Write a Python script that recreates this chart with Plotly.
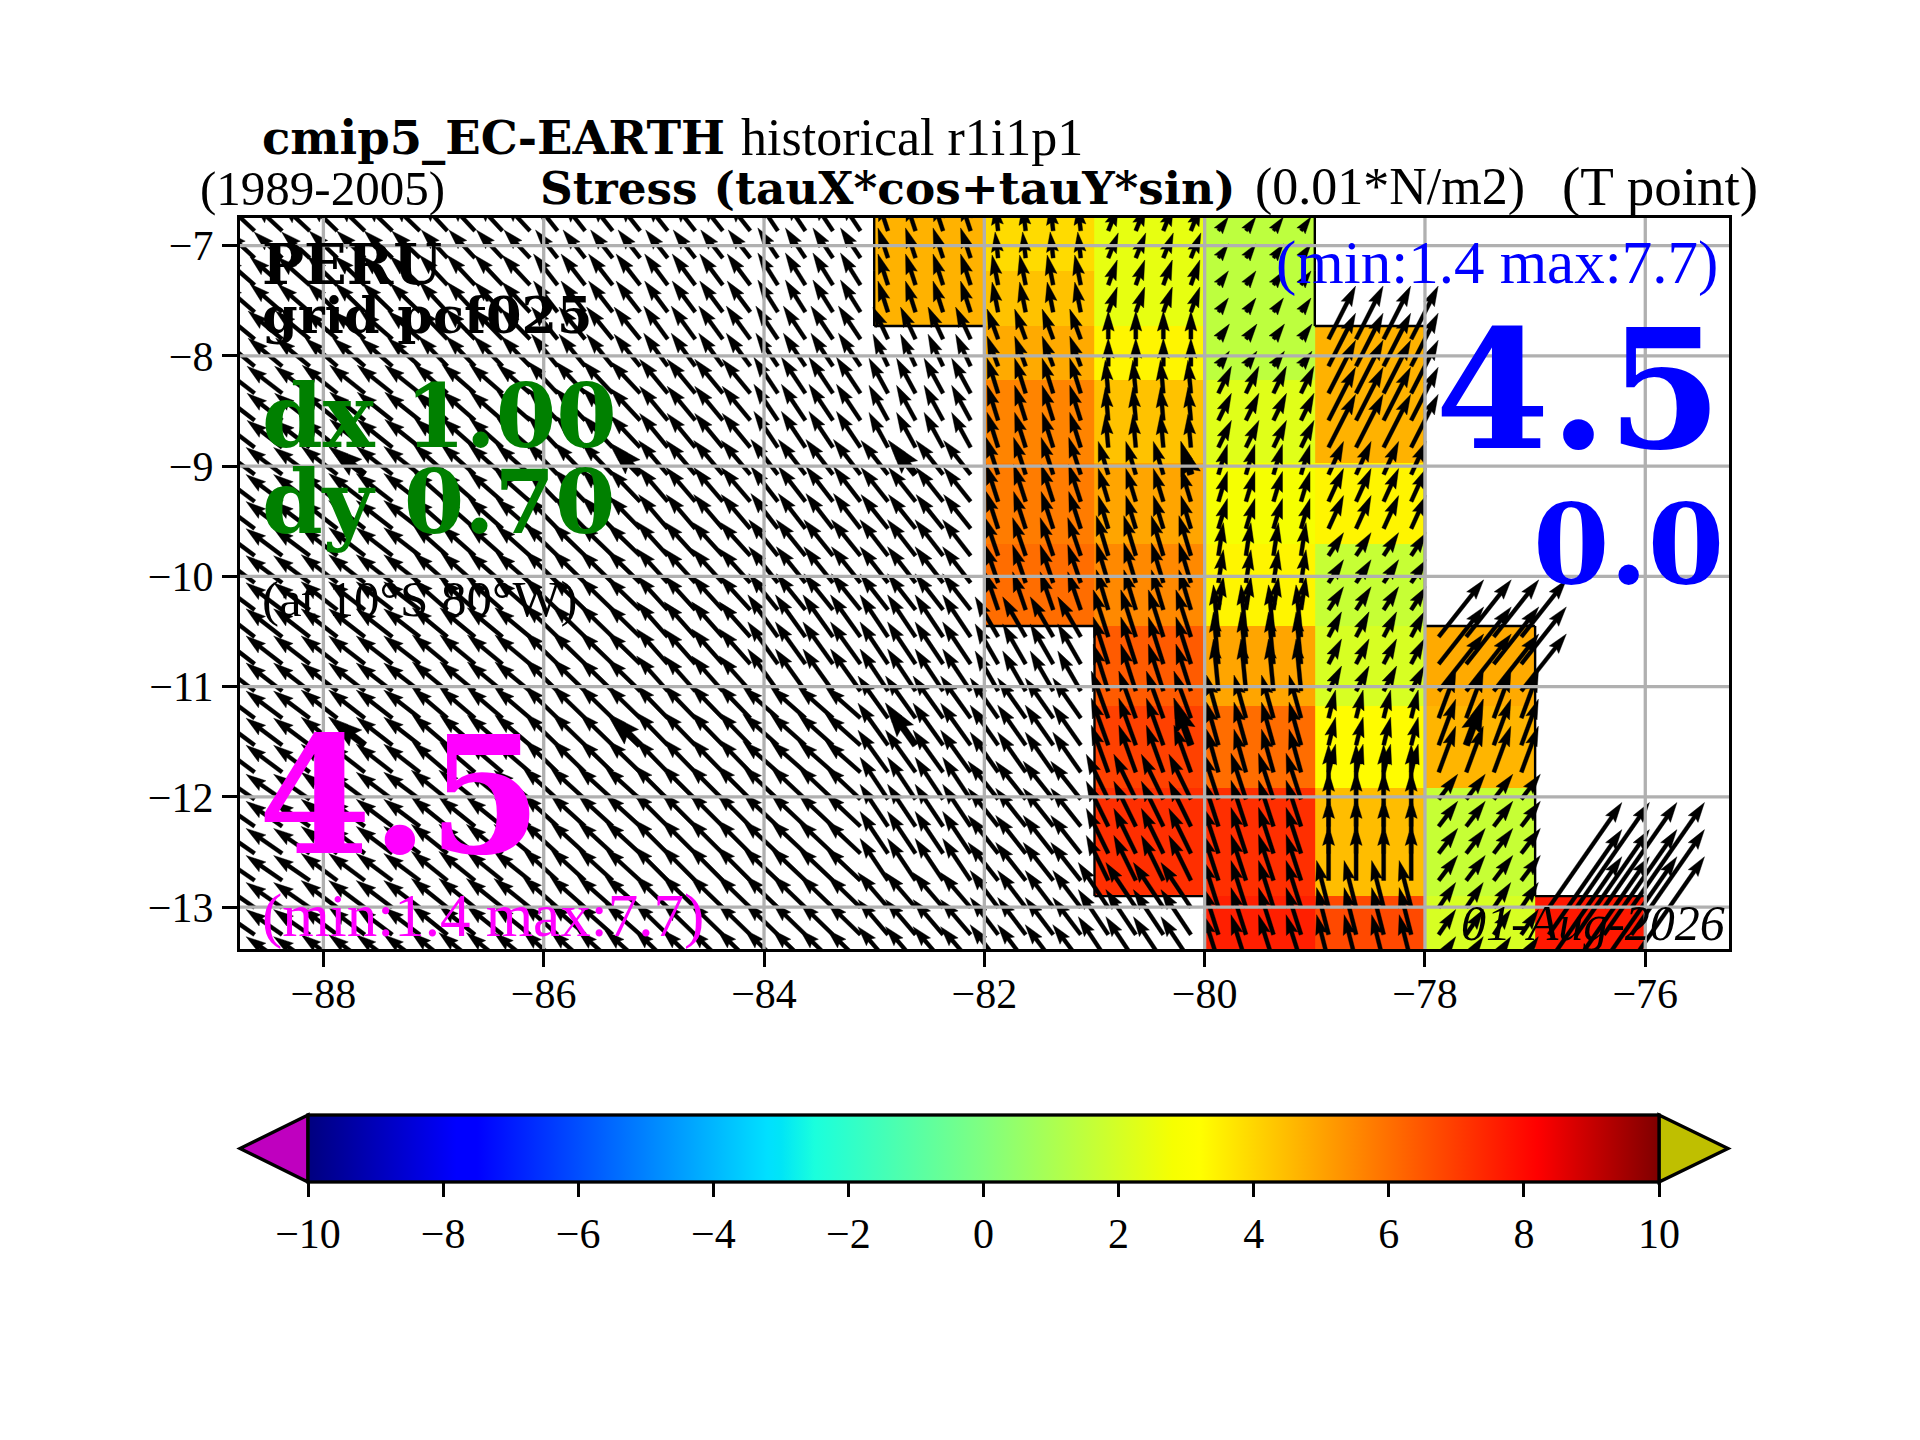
import math
import plotly.graph_objects as go

W, H = 1920, 1440
PAGE_MARGIN = 8  # browser body margin around the plot div

# stress magnitude per 1 degree cell (0.01*N/m2), north to south, None = masked
LON_EDGES = [-83, -82, -81, -80, -79, -78, -77, -76]
LAT_EDGES = [-6.75, -7.23, -7.73, -8.22, -8.97, -9.71, -10.45, -11.18, -11.92, -12.9, -13.4]
STRESS = [
    [4.7, 3.9, 2.44, 1.45, None, None, None],
    [4.7, 4.38, 2.44, 1.45, None, None, None],
    [None, 4.85, 3.4, 1.45, 4.7, None, None],
    [None, 5.6, 4.38, 2.27, 4.7, None, None],
    [None, 5.76, 4.96, 2.82, 3.4, None, None],
    [None, 6.04, 5.5, 3.4, 1.65, None, None],
    [None, None, 6.4, 4.96, 2.06, 4.85, None],
    [None, None, 6.9, 6.04, 3.26, 4.64, None],
    [None, None, 7.25, 7.25, 4.48, 1.65, None],
    [None, None, None, 7.56, 6.74, 2.06, 7.7],
]

# wind stress vectors per 1 degree cell, same rows as STRESS, columns from -89 to -77
VEC_LON_EDGES = [-89, -88, -87, -86, -85, -84, -83, -82, -81, -80, -79, -78, -77, -76]
TAU_U = [
    [-28, -28, -26, -22, -22, -20, -10, -3, 10, 10, None, None, None],
    [-32, -30, -28, -24, -23, -20, -10, -6, 9, 10, None, None, None],
    [-34, -32, -29, -26, -24, -22, -15, -11, 0, 11, 27, None, None],
    [-35, -35, -33, -30, -28, -24, -19, -11, -3, 13, 27, None, None],
    [-36, -36, -34, -31, -29, -27, -27, -12, -10, 9, 15, None, None],
    [-36, -36, -34, -33, -31, -29, -28, -13, -12, 5, 15, None, None],
    [-36, -36, -35, -33, -31, -30, -28, -23, -15, -5, 13, 45, None],
    [-36, -36, -35, -33, -32, -35, -30, -28, -17, -12, 7, 17, None],
    [-36, -36, -36, -35, -34, -35, -28, -30, -22, -15, 0, 19, None],
    [-36, -36, -36, -35, -33, -33, -30, -28, -30, -15, -12, 17, 73],
]
TAU_V = [
    [26, 27, 28, 28, 28, 30, 30, 26, 25, 14, None, None, None],
    [28, 29, 30, 31, 31, 32, 31, 30, 25, 14, None, None, None],
    [28, 28, 30, 32, 33, 33, 32, 30, 28, 15, 53, None, None],
    [27, 28, 29, 32, 34, 36, 35, 35, 33, 27, 53, None, None],
    [27, 28, 30, 32, 34, 35, 34, 37, 33, 30, 33, None, None],
    [27, 28, 30, 32, 34, 36, 36, 38, 40, 33, 23, None, None],
    [28, 28, 29, 32, 35, 42, 42, 40, 47, 52, 25, 57, None],
    [27, 28, 30, 32, 33, 31, 42, 40, 47, 43, 28, 46, None],
    [25, 27, 29, 32, 34, 33, 42, 38, 45, 46, 55, 25, None],
    [25, 27, 29, 31, 32, 32, 35, 37, 45, 47, 47, 25, 105],
]
# arrow tails sit on the model grid
TAIL_LON = [-88.875 + 0.25 * k for k in range(52)]
TAIL_LAT = [-13.495 + 0.2455 * k for k in range(29)]
# the few thick arrows
BIG_LON = [-87.625, -85.125, -82.625, -80.125, -87.625, -85.125, -82.625, -80.125, -77.625]
BIG_LAT = [TAIL_LAT[18]] * 4 + [TAIL_LAT[8]] * 5

XTICKS = [-88, -86, -84, -82, -80, -78, -76]
YTICKS = [-13, -12, -11, -10, -9, -8, -7]
CBAR_TICKS = [-10, -8, -6, -4, -2, 0, 2, 4, 6, 8, 10]

# axes box in pixels
AX_L, AX_R, AX_T, AX_B = 240, 1729, 218, 949
X_RANGE = [-88.757, -75.24]
Y_RANGE = [-13.38, -6.75]
PX_X = (AX_R - AX_L) / (X_RANGE[1] - X_RANGE[0])
PX_Y = (AX_B - AX_T) / (Y_RANGE[1] - Y_RANGE[0])

JET = [
    [0.0, "#00007f"], [0.11, "#0000ff"], [0.125, "#0000ff"], [0.34, "#00e0ff"], [0.35, "#00e5f7"],
    [0.375, "#1affdd"], [0.5, "#80ff80"], [0.64, "#f6ff01"], [0.66, "#ffff00"], [0.89, "#ff1300"],
    [0.91, "#ff0000"], [1.0, "#7f0000"],
]

SERIF = "Liberation Serif"
BOLD = "DejaVu Serif"


def px(x):
    return (x - PAGE_MARGIN) / W


def py(y):
    return 1 - (y - PAGE_MARGIN) / H


def arrow_poly(lon, lat, u, v, w):
    # same shape as a matplotlib quiver arrow, sizes in pixels
    length = math.hypot(u, v)
    hl, hal, hw = 5 * w, 4.5 * w, 1.5 * w
    k = min(1.0, length / hl)
    w2, hl, hal, hw = w / 2 * k, hl * k, hal * k, hw * k
    pts = [(0, w2), (length - hal, w2), (length - hl, hw), (length, 0),
           (length - hl, -hw), (length - hal, -w2), (0, -w2), (0, w2)]
    cs, sn = u / length, v / length
    xs, ys = [], []
    for a, b in pts:
        xs.append(lon + (a * cs - b * sn) / PX_X)
        ys.append(lat + (a * sn + b * cs) / PX_Y)
    return xs + [None], ys + [None]


def find_cell(value, edges):
    for n in range(len(edges) - 1):
        if min(edges[n], edges[n + 1]) <= value < max(edges[n], edges[n + 1]):
            return n
    return None


def lookup(lon, lat):
    # tails south of the last row still belong to it
    r = find_cell(max(lat, LAT_EDGES[-1]), LAT_EDGES)
    c = find_cell(lon, VEC_LON_EDGES)
    if r is None or c is None:
        return None, None
    return TAU_U[r][c], TAU_V[r][c]


fig = go.Figure()

# colored cells
fig.add_trace(go.Heatmap(
    x=LON_EDGES, y=LAT_EDGES[::-1], z=STRESS[::-1],
    zmin=-10, zmax=10, colorscale=JET, hoverinfo="skip",
    colorbar=dict(
        orientation="h", x=px((308 + 1659) / 2), xanchor="center", y=py(1115), yanchor="top",
        len=1351, lenmode="pixels", thickness=67, thicknessmode="pixels", xpad=0, ypad=0,
        outlinecolor="black", outlinewidth=3.3,
        tickmode="array", tickvals=CBAR_TICKS, ticks="outside", ticklen=14, tickwidth=3.3, tickcolor="black",
        tickfont=dict(family=SERIF, size=42, color="black"),
    ),
))

# black line between masked and unmasked cells
edge_x, edge_y = [], []
nr, nc = len(STRESS), len(STRESS[0])
for r in range(nr):
    for c in range(nc):
        here = STRESS[r][c] is not None
        if c + 1 < nc and here != (STRESS[r][c + 1] is not None):
            edge_x += [LON_EDGES[c + 1], LON_EDGES[c + 1], None]
            edge_y += [LAT_EDGES[r], LAT_EDGES[r + 1], None]
        if c == 0 and here:
            edge_x += [LON_EDGES[0], LON_EDGES[0], None]
            edge_y += [LAT_EDGES[r], LAT_EDGES[r + 1], None]
        if r + 1 < nr and here != (STRESS[r + 1][c] is not None):
            edge_x += [LON_EDGES[c], LON_EDGES[c + 1], None]
            edge_y += [LAT_EDGES[r + 1], LAT_EDGES[r + 1], None]
fig.add_trace(go.Scatter(x=edge_x, y=edge_y, mode="lines", line=dict(color="black", width=2.4),
                         hoverinfo="skip", showlegend=False))

# quiver
ax_x, ax_y = [], []
for lat in TAIL_LAT:
    for lon in TAIL_LON:
        u, v = lookup(lon, lat)
        if u is None:
            continue
        xs, ys = arrow_poly(lon, lat, u, v, 4.0)
        ax_x += xs
        ax_y += ys
for lon, lat in zip(BIG_LON, BIG_LAT):
    u, v = lookup(lon, lat)
    xs, ys = arrow_poly(lon, lat, u, v, 6.8)
    ax_x += xs
    ax_y += ys
fig.add_trace(go.Scatter(x=ax_x, y=ax_y, mode="lines", fill="toself", fillcolor="black",
                         line=dict(color="black", width=0.4, simplify=False),
                         hoverinfo="skip", showlegend=False))

# grid goes on top of the arrows
grid_x, grid_y = [], []
for t in XTICKS:
    grid_x += [t, t, None]
    grid_y += [Y_RANGE[0], Y_RANGE[1], None]
for t in YTICKS:
    grid_x += [X_RANGE[0], X_RANGE[1], None]
    grid_y += [t, t, None]
fig.add_trace(go.Scatter(x=grid_x, y=grid_y, mode="lines", line=dict(color="#b0b0b0", width=3.3),
                         hoverinfo="skip", showlegend=False))

axis_style = dict(
    showgrid=False, zeroline=False, showline=True, mirror=True, linecolor="black", linewidth=3.3,
    ticks="outside", ticklen=15, tickwidth=3.3, tickcolor="black",
    tickfont=dict(family=SERIF, size=42, color="black"),
)
fig.update_layout(
    width=W, height=H, margin=dict(l=0, r=0, t=0, b=0), autosize=False,
    paper_bgcolor="white", plot_bgcolor="white", showlegend=False,
    xaxis=dict(domain=[px(AX_L), px(AX_R)], range=X_RANGE, tickmode="array", tickvals=XTICKS,
               ticklabelstandoff=-10, **axis_style),
    yaxis=dict(domain=[py(AX_B), py(AX_T)], range=Y_RANGE, tickmode="array", tickvals=YTICKS, **axis_style),
)

# colorbar extension triangles
fig.add_shape(type="path", xref="paper", yref="paper", layer="above",
              path=f"M {px(308)} {py(1115)} L {px(240)} {py(1148.5)} L {px(308)} {py(1182)} Z",
              fillcolor="#bf00bf", line=dict(color="black", width=3.3))
fig.add_shape(type="path", xref="paper", yref="paper", layer="above",
              path=f"M {px(1659)} {py(1115)} L {px(1728)} {py(1148.5)} L {px(1659)} {py(1182)} Z",
              fillcolor="#bfbf00", line=dict(color="black", width=3.3))

# text: string, x px, anchor, baseline px, size, color, family
LABELS = [
    ("<b>cmip5_EC-EARTH</b>", 262, "left", 155, 46.5, "black", BOLD),
    ("historical r1i1p1", 741, "left", 155, 52, "black", SERIF),
    ("(1989-2005)", 200, "left", 205, 49, "black", SERIF),
    ("<b>Stress (tauX*cos+tauY*sin)</b>", 540, "left", 205, 45.4, "black", BOLD),
    ("(0.01*N/m2)", 1255, "left", 205, 52, "black", SERIF),
    ("(T point)", 1562, "left", 205, 55, "black", SERIF),
    ("<b>PERU</b>", 262, "left", 285, 56, "black", BOLD),
    ("<b>grid pcf025</b>", 262, "left", 334, 51, "black", BOLD),
    ("<b>dx 1.00</b>", 262, "left", 449, 87, "green", BOLD),
    ("<b>dy 0.70</b>", 262, "left", 535, 87, "green", BOLD),
    ("(at 10°S 80°W)", 262, "left", 616, 51, "black", SERIF),
    ("<b>4.5</b>", 258, "left", 855, 163, "magenta", BOLD),
    ("(min:1.4 max:7.7)", 262, "left", 937, 61, "magenta", SERIF),
    ("(min:1.4 max:7.7)", 1718, "right", 284, 61, "blue", SERIF),
    ("<b>4.5</b>", 1722, "right", 451, 165, "blue", BOLD),
    ("<b>0.0</b>", 1724, "right", 585, 110, "blue", BOLD),
    ("<i>01-Aug-2026</i>", 1725, "right", 940, 50, "black", SERIF),
]
for text, x, anchor, base, size, color, family in LABELS:
    fig.add_annotation(
        text=text, xref="paper", yref="paper", x=px(x), y=py(base + 0.22 * size),
        xanchor=anchor, yanchor="bottom", showarrow=False, borderpad=0, borderwidth=0,
        font=dict(family=family, size=size, color=color),
    )

fig.write_html("out.html")
